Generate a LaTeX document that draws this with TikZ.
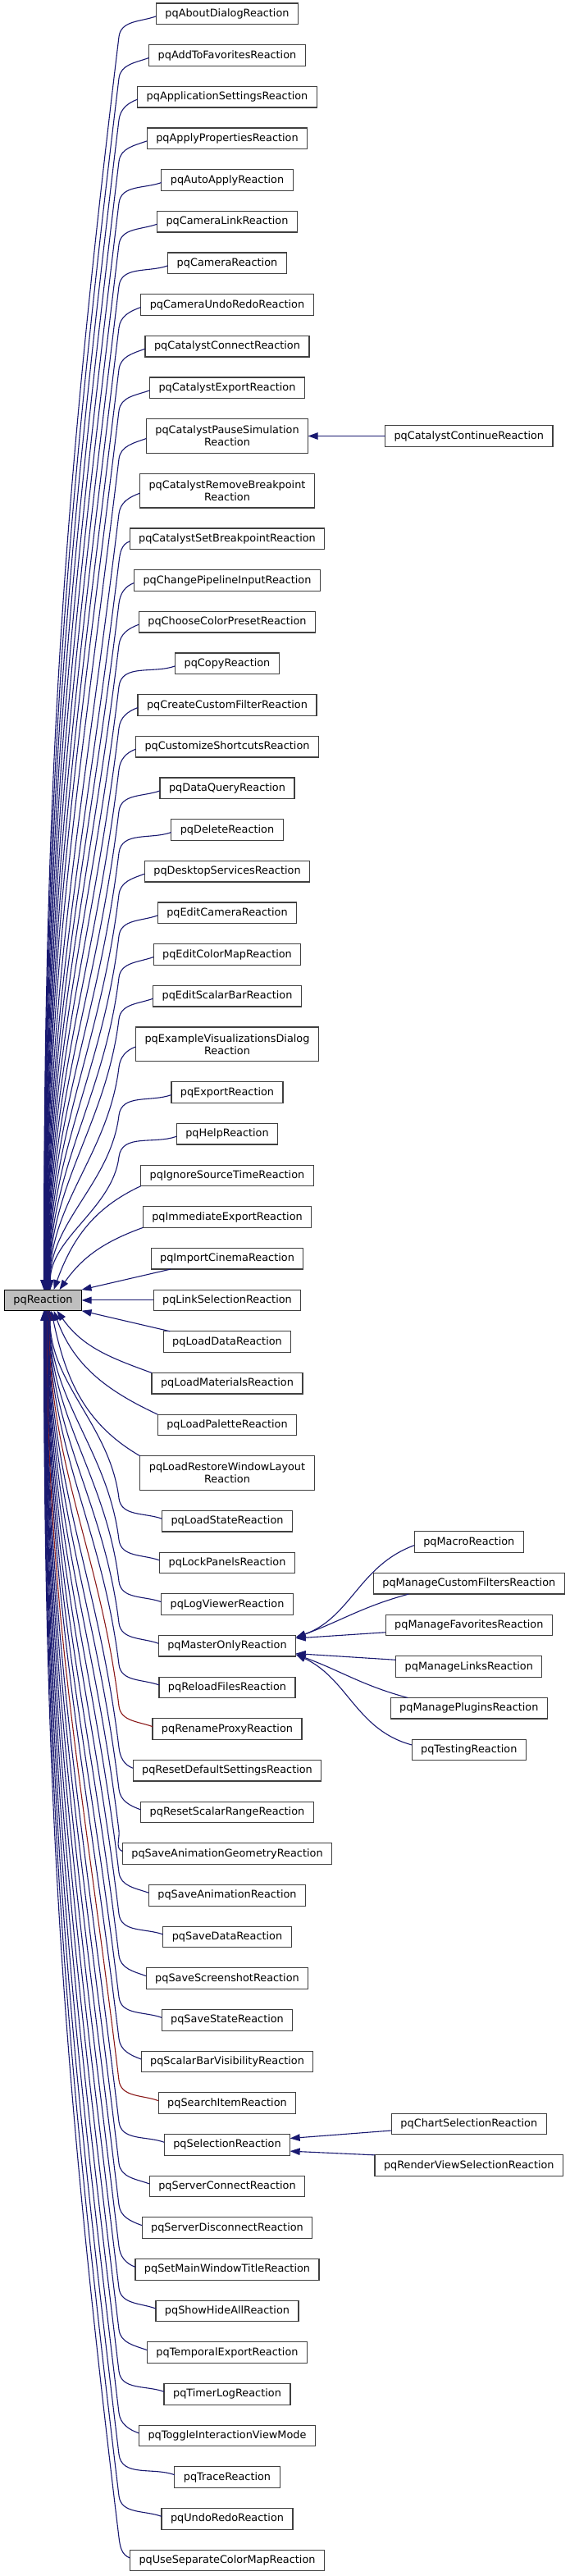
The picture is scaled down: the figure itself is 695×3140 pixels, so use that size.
\documentclass[tikz,border=0pt]{standalone}
\usepackage{fontspec}
\setmainfont{DejaVu Sans}
\usetikzlibrary{arrows.meta, positioning, calc}
\definecolor{inhBlue}{HTML}{191970}
\definecolor{inhRed}{HTML}{8B1A1A}
\definecolor{boxGray}{HTML}{404040}
\definecolor{rootGray}{HTML}{BFBFBF}

% edge from the base class up / down to a child, bending in the rank gap
\newcommand{\inhup}[3]{\draw[#1] let \p1=([xshift=#2]r.north), \p2=($(145,0 |- #3.west)+(0,-28)$), \n1={0.39*(\y2-\y1)} in
  (\p1) .. controls +(0,\n1) and +({-0.12*\n1},{-0.99*\n1}) .. (\p2) to[out=83,in=200] ($(#3.west)+(0,-3)$);}
\newcommand{\inhdown}[3]{\draw[#1] let \p1=([xshift=#2]r.south), \p2=($(145,0 |- #3.west)+(0,28)$), \n1={0.39*(\y1-\y2)} in
  (\p1) .. controls +(0,-\n1) and +({-0.12*\n1},{0.99*\n1}) .. (\p2) to[out=-83,in=160] ($(#3.west)+(0,3)$);}

\begin{document}
\begin{tikzpicture}[x=1pt, y=1pt,
    node distance=25.07pt,
    cls/.style={rectangle, draw=boxGray, line width=1.2pt, fill=white,
                font=\fontsize{12.85}{15}\selectfont, minimum height=25.6pt,
                inner xsep=11pt, inner ysep=2pt, outer sep=0pt, align=center},
    cls2/.style={cls, minimum height=41.6pt},
    rootcls/.style={cls, draw=black, fill=rootGray},
    inh/.style={draw=inhBlue, line width=1.1pt, {Triangle[length=12pt, width=8.5pt]}-},
    inhpriv/.style={inh, draw=inhRed},
  ]
    \useasboundingbox (0,0) rectangle (695,-3140);

    % derived classes
    \node[cls] (c1) at (277,-16.8) {pqAboutDialogReaction};
    \node[cls, below=of c1] (c2) {pqAddToFavoritesReaction};
    \node[cls, below=of c2] (c3) {pqApplicationSettingsReaction};
    \node[cls, below=of c3] (c4) {pqApplyPropertiesReaction};
    \node[cls, below=of c4] (c5) {pqAutoApplyReaction};
    \node[cls, below=of c5] (c6) {pqCameraLinkReaction};
    \node[cls, below=of c6] (c7) {pqCameraReaction};
    \node[cls, below=of c7] (c8) {pqCameraUndoRedoReaction};
    \node[cls, below=of c8] (c9) {pqCatalystConnectReaction};
    \node[cls, below=of c9] (c10) {pqCatalystExportReaction};
    \node[cls2, below=of c10] (c11) {pqCatalystPauseSimulation\\Reaction};
    \node[cls2, below=of c11] (c12) {pqCatalystRemoveBreakpoint\\Reaction};
    \node[cls, below=of c12] (c13) {pqCatalystSetBreakpointReaction};
    \node[cls, below=of c13] (c14) {pqChangePipelineInputReaction};
    \node[cls, below=of c14] (c15) {pqChooseColorPresetReaction};
    \node[cls, below=of c15] (c16) {pqCopyReaction};
    \node[cls, below=of c16] (c17) {pqCreateCustomFilterReaction};
    \node[cls, below=of c17] (c18) {pqCustomizeShortcutsReaction};
    \node[cls, below=of c18] (c19) {pqDataQueryReaction};
    \node[cls, below=of c19] (c20) {pqDeleteReaction};
    \node[cls, below=of c20] (c21) {pqDesktopServicesReaction};
    \node[cls, below=of c21] (c22) {pqEditCameraReaction};
    \node[cls, below=of c22] (c23) {pqEditColorMapReaction};
    \node[cls, below=of c23] (c24) {pqEditScalarBarReaction};
    \node[cls2, below=of c24] (c25) {pqExampleVisualizationsDialog\\Reaction};
    \node[cls, below=of c25] (c26) {pqExportReaction};
    \node[cls, below=of c26] (c27) {pqHelpReaction};
    \node[cls, below=of c27] (c28) {pqIgnoreSourceTimeReaction};
    \node[cls, below=of c28] (c29) {pqImmediateExportReaction};
    \node[cls, below=of c29] (c30) {pqImportCinemaReaction};
    \node[cls, below=of c30] (c31) {pqLinkSelectionReaction};
    \node[cls, below=of c31] (c32) {pqLoadDataReaction};
    \node[cls, below=of c32] (c33) {pqLoadMaterialsReaction};
    \node[cls, below=of c33] (c34) {pqLoadPaletteReaction};
    \node[cls2, below=of c34] (c35) {pqLoadRestoreWindowLayout\\Reaction};
    \node[cls, below=of c35] (c36) {pqLoadStateReaction};
    \node[cls, below=of c36] (c37) {pqLockPanelsReaction};
    \node[cls, below=of c37] (c38) {pqLogViewerReaction};
    \node[cls, below=of c38] (c39) {pqMasterOnlyReaction};
    \node[cls, below=of c39] (c40) {pqReloadFilesReaction};
    \node[cls, below=of c40] (c41) {pqRenameProxyReaction};
    \node[cls, below=of c41] (c42) {pqResetDefaultSettingsReaction};
    \node[cls, below=of c42] (c43) {pqResetScalarRangeReaction};
    \node[cls, below=of c43] (c44) {pqSaveAnimationGeometryReaction};
    \node[cls, below=of c44] (c45) {pqSaveAnimationReaction};
    \node[cls, below=of c45] (c46) {pqSaveDataReaction};
    \node[cls, below=of c46] (c47) {pqSaveScreenshotReaction};
    \node[cls, below=of c47] (c48) {pqSaveStateReaction};
    \node[cls, below=of c48] (c49) {pqScalarBarVisibilityReaction};
    \node[cls, below=of c49] (c50) {pqSearchItemReaction};
    \node[cls, below=of c50] (c51) {pqSelectionReaction};
    \node[cls, below=of c51] (c52) {pqServerConnectReaction};
    \node[cls, below=of c52] (c53) {pqServerDisconnectReaction};
    \node[cls, below=of c53] (c54) {pqSetMainWindowTitleReaction};
    \node[cls, below=of c54] (c55) {pqShowHideAllReaction};
    \node[cls, below=of c55] (c56) {pqTemporalExportReaction};
    \node[cls, below=of c56] (c57) {pqTimerLogReaction};
    \node[cls, below=of c57] (c58) {pqToggleInteractionViewMode};
    \node[cls, below=of c58] (c59) {pqTraceReaction};
    \node[cls, below=of c59] (c60) {pqUndoRedoReaction};
    \node[cls, below=of c60] (c61) {pqUseSeparateColorMapReaction};

    % base class
    \node[rootcls] (r) at (52.5,0 |- c31) {pqReaction};

    % third rank
    \node[cls] (cc) at (571.8,0 |- c11) {pqCatalystContinueReaction};
    \node[cls] (mfav) at ($(571.8,0 |- c39)+(0,25.33)$) {pqManageFavoritesReaction};
    \node[cls, above=of mfav] (mcust) {pqManageCustomFiltersReaction};
    \node[cls, above=of mcust] (macro) {pqMacroReaction};
    \node[cls, below=of mfav] (mlinks) {pqManageLinksReaction};
    \node[cls, below=of mlinks] (mplug) {pqManagePluginsReaction};
    \node[cls, below=of mplug] (testing) {pqTestingReaction};
    \node[cls] (chart) at ($(571.8,0 |- c51)+(0,25.33)$) {pqChartSelectionReaction};
    \node[cls, below=of chart] (render) {pqRenderViewSelectionReaction};

    % inheritance edges, upper half
    \inhup{inh}{1pt}{c1}
    \inhup{inh}{1.3pt}{c2}
    \inhup{inh}{1.6pt}{c3}
    \inhup{inh}{1.9pt}{c4}
    \inhup{inh}{2.2pt}{c5}
    \inhup{inh}{2.5pt}{c6}
    \inhup{inh}{2.8pt}{c7}
    \inhup{inh}{3.1pt}{c8}
    \inhup{inh}{3.4pt}{c9}
    \inhup{inh}{3.7pt}{c10}
    \inhup{inh}{4pt}{c11}
    \inhup{inh}{4.3pt}{c12}
    \inhup{inh}{4.6pt}{c13}
    \inhup{inh}{4.9pt}{c14}
    \inhup{inh}{5.2pt}{c15}
    \inhup{inh}{5.5pt}{c16}
    \inhup{inh}{5.8pt}{c17}
    \inhup{inh}{6.1pt}{c18}
    \inhup{inh}{6.4pt}{c19}
    \inhup{inh}{6.7pt}{c20}
    \inhup{inh}{7pt}{c21}
    \inhup{inh}{7.3pt}{c22}
    \inhup{inh}{7.6pt}{c23}
    \inhup{inh}{7.9pt}{c24}
    \inhup{inh}{8.2pt}{c25}
    \inhup{inh}{8.5pt}{c26}
    \inhup{inh}{8.8pt}{c27}
    \draw[inh] ([xshift=13pt]r.north) to[out=70,in=205] (c28.south west);
    \draw[inh] ([xshift=20pt]r.north) to[out=55,in=200] (c29.south west);
    \draw[inh] (r.north east) -- ([xshift=24pt]c30.south west);
    \draw[inh] (r.east) -- (c31.west);
    % lower half
    \draw[inh] (r.south east) -- ([xshift=8pt]c32.north west);
    \draw[inh] ([xshift=17pt]r.south) to[out=-55,in=160] (c33.north west);
    \draw[inh] ([xshift=13pt]r.south) to[out=-70,in=155] (c34.north west);
    \draw[inh] ([xshift=10pt]r.south) to[out=-78,in=150] (c35.north west);
    \inhdown{inh}{8.5pt}{c36}
    \inhdown{inh}{8.2pt}{c37}
    \inhdown{inh}{7.9pt}{c38}
    \inhdown{inh}{7.6pt}{c39}
    \inhdown{inh}{7.3pt}{c40}
    \inhdown{inhpriv}{7pt}{c41}
    \inhdown{inh}{6.7pt}{c42}
    \inhdown{inh}{6.4pt}{c43}
    \inhdown{inh}{6.1pt}{c44}
    \inhdown{inh}{5.8pt}{c45}
    \inhdown{inh}{5.5pt}{c46}
    \inhdown{inh}{5.2pt}{c47}
    \inhdown{inh}{4.9pt}{c48}
    \inhdown{inh}{4.6pt}{c49}
    \inhdown{inhpriv}{4.3pt}{c50}
    \inhdown{inh}{4pt}{c51}
    \inhdown{inh}{3.7pt}{c52}
    \inhdown{inh}{3.4pt}{c53}
    \inhdown{inh}{3.1pt}{c54}
    \inhdown{inh}{2.8pt}{c55}
    \inhdown{inh}{2.5pt}{c56}
    \inhdown{inh}{2.2pt}{c57}
    \inhdown{inh}{1.9pt}{c58}
    \inhdown{inh}{1.6pt}{c59}
    \inhdown{inh}{1.3pt}{c60}
    \inhdown{inh}{1pt}{c61}

    % third rank edges
    \draw[inh] (c11.east) -- (cc.west);
    \draw[inh] ([yshift=-2.5pt]c39.north east) to[out=20,in=200] ($(macro.west)+(0,-4)$);
    \draw[inh] ([yshift=-2.5pt]c39.north east) to[out=20,in=195] ([xshift=43pt]mcust.south west);
    \draw[inh] ([yshift=-3.5pt]c39.north east) -- ([yshift=4pt]mfav.south west);
    \draw[inh] ([yshift=3.5pt]c39.south east) -- ([yshift=-4.5pt]mlinks.north west);
    \draw[inh] ([yshift=2.5pt]c39.south east) to[out=-20,in=165] ([xshift=21pt]mplug.north west);
    \draw[inh] ([yshift=2.5pt]c39.south east) to[out=-25,in=165] ($(testing.west)+(0,6)$);
    \draw[inh] ([yshift=-5pt]c51.north east) -- ($(chart.west)+(0,-8)$);
    \draw[inh] ([yshift=5pt]c51.south east) -- (render.north west);
\end{tikzpicture}
\end{document}
